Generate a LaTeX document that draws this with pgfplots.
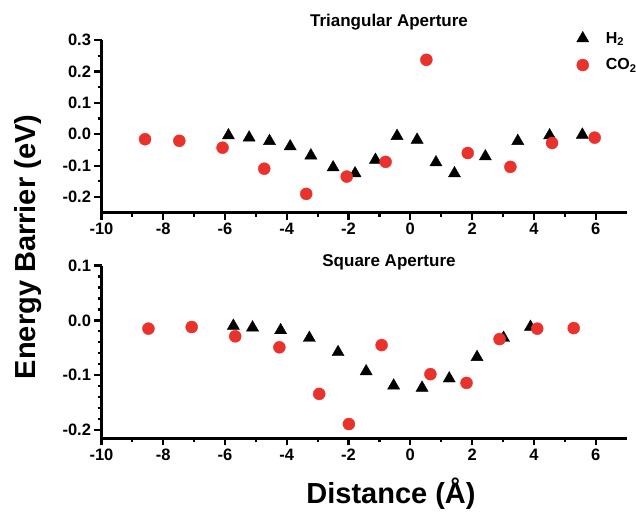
\documentclass[border=0pt]{standalone}
\usepackage{fontspec}
\setmainfont{Liberation Sans}
\usepackage{pgfplots}
\pgfplotsset{compat=1.18}
\definecolor{dotred}{RGB}{233,50,44}

\pgfplotsset{
  panel/.style={
    scale only axis, width=525pt, height=172.7pt,
    xmin=-10, xmax=7,
    axis x line*=bottom, axis y line*=left,
    axis line style={line width=2.6pt},
    every outer x axis line/.append style={line width=2.6pt},
    every outer y axis line/.append style={line width=2.6pt},
    tick style={line width=2.2pt, black},
    tick align=outside,
    major tick length=7pt, minor tick length=4pt,
    xtick={-10,-8,...,6}, minor x tick num=1,
    ticklabel style={font=\fontsize{16.5}{19}\selectfont\bfseries},
    /pgf/number format/assume math mode=true,
    y tick label style={/pgf/number format/fixed,
      /pgf/number format/fixed zerofill, /pgf/number format/precision=1},
    title style={font=\fontsize{17}{20}\selectfont\bfseries, anchor=base},
  },
  htwo/.style={only marks, mark=triangle*, mark size=7pt,
    mark options={fill=black, draw=black}},
  cotwo/.style={only marks, mark=*, mark size=6pt,
    mark options={fill=dotred, draw=dotred}},
}

\begin{document}
\begin{tikzpicture}
\path[use as bounding box] (0,0) rectangle (636pt,512pt);

% Triangular aperture
\begin{axis}[panel,
  at={(101.5pt,299.3pt)}, anchor=south west,
  ymin=-0.25, ymax=0.3,
  ytick={-0.2,-0.1,0,0.1,0.2,0.3}, minor y tick num=1,
  title={Triangular Aperture},
  title style={at={(axis description cs:0.5476,1.046)}},
  legend style={draw=none, fill=none,
    at={(axis description cs:0.899,1.0695)}, anchor=north west,
    font=\fontsize{16}{19}\selectfont\bfseries, row sep=10pt,
    /tikz/every odd column/.append style={column sep=15pt}},
  legend cell align=left,
]
\addplot[htwo] coordinates {
  (-5.89,-0.004) (-5.22,-0.011) (-4.56,-0.022) (-3.89,-0.039)
  (-3.22,-0.068) (-2.50,-0.106) (-1.79,-0.125) (-1.13,-0.082)
  (-0.43,-0.006) (0.22,-0.018) (0.83,-0.090) (1.43,-0.125)
  (2.43,-0.071) (3.48,-0.022) (4.51,-0.004) (5.57,-0.002)
};
\addplot[cotwo] coordinates {
  (-8.59,-0.016) (-7.48,-0.021) (-6.08,-0.043) (-4.73,-0.110)
  (-3.37,-0.190) (-2.06,-0.135) (-0.80,-0.088) (0.52,0.237)
  (1.86,-0.060) (3.24,-0.104) (4.59,-0.028) (5.97,-0.011)
};
\legend{H\textsubscript{2}, CO\textsubscript{2}}
\end{axis}

% Square aperture
\begin{axis}[panel,
  at={(101.5pt,73.7pt)}, anchor=south west,
  ymin=-0.215, ymax=0.1,
  ytick={-0.2,-0.1,0,0.1}, minor y tick num=4,
  title={Square Aperture},
  title style={at={(axis description cs:0.5476,0.9575)}},
  xlabel={Distance (Å)},
  xlabel style={at={(axis description cs:0.5514,-0.3795)}, anchor=base,
    font=\fontsize{29}{34}\selectfont\bfseries},
  ylabel={Energy Barrier (eV)},
  ylabel style={at={(axis description cs:-0.1248,1.108)}, anchor=base,
    font=\fontsize{29}{34}\selectfont\bfseries},
]
\addplot[htwo] coordinates {
  (-5.73,-0.010) (-5.11,-0.013) (-4.20,-0.018) (-3.27,-0.032)
  (-2.34,-0.058) (-1.43,-0.093) (-0.54,-0.119) (0.38,-0.123)
  (1.26,-0.106) (2.16,-0.067) (3.02,-0.032) (3.89,-0.012)
};
\addplot[cotwo] coordinates {
  (-8.48,-0.015) (-7.08,-0.012) (-5.67,-0.029) (-4.24,-0.049)
  (-2.95,-0.134) (-1.99,-0.189) (-0.93,-0.045) (0.65,-0.098)
  (1.82,-0.114) (2.89,-0.034) (4.11,-0.015) (5.29,-0.014)
};
\end{axis}
\end{tikzpicture}
\end{document}
